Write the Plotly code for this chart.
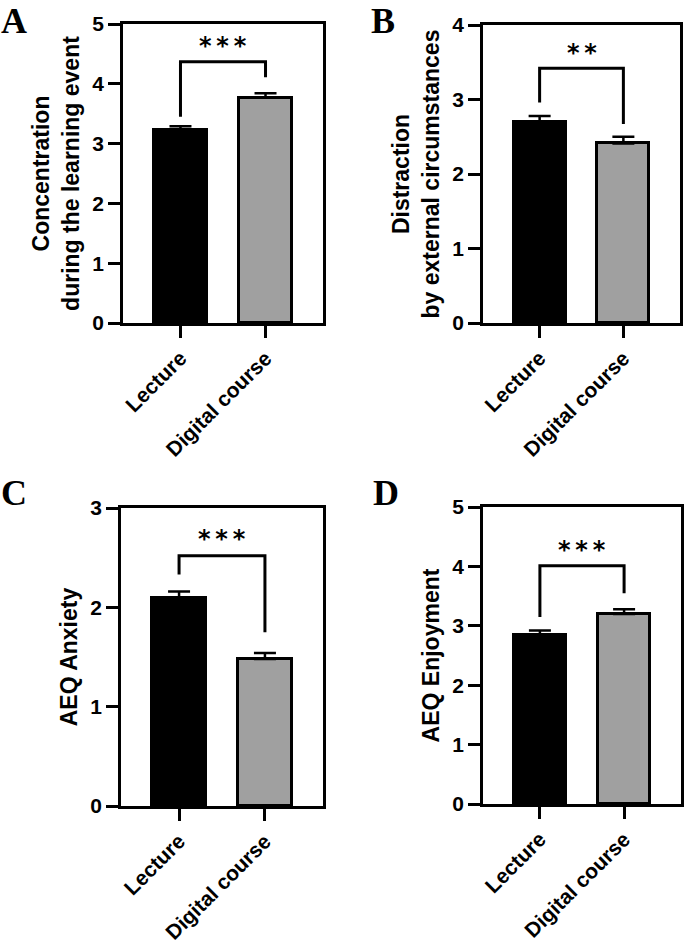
import plotly.graph_objects as go

categories = ["Lecture", "Digital course"]
panel_letters = ["A", "B", "C", "D"]
y_titles = ["Concentration<br>during the learning event",
            "Distraction<br>by external circumstances",
            "AEQ Anxiety",
            "AEQ Enjoyment"]
means_A = [3.22, 3.77]
sem_A = [0.07, 0.07]
means_B = [2.70, 2.41]
sem_B = [0.08, 0.09]
means_C = [2.09, 1.48]
sem_C = [0.07, 0.06]
means_D = [2.85, 3.20]
sem_D = [0.07, 0.08]
y_max = [5, 4, 3, 5]
y_tick_step = [1, 1, 1, 1]
# significance brackets: [left leg bottom, top, right leg bottom], star label y
bracket_A = [3.45, 4.37, 4.11]
bracket_B = [2.96, 3.42, 2.67]
bracket_C = [2.33, 2.52, 1.75]
bracket_D = [3.15, 4.01, 3.55]
stars = ["***", "**", "***", "***"]
star_y = [4.69, 3.66, 2.72, 4.32]

means = [means_A, means_B, means_C, means_D]
sems = [sem_A, sem_B, sem_C, sem_D]
brackets = [bracket_A, bracket_B, bracket_C, bracket_D]

W, H = 685, 948
# plot-area pixel boxes (left, right, top, bottom)
boxes = [(123, 323, 24, 323), (483, 680, 25, 323),
         (121, 323, 508, 806), (483, 681, 507, 804)]
letter_pos = [(0, 0), (370, 0), (0, 472), (372, 472)]

FONT = "Liberation Sans"
fills = ["#000000", "#a0a0a0"]

fig = go.Figure()
for i in range(4):
    ax = "" if i == 0 else str(i + 1)
    l, r, t, b = boxes[i]
    fig.add_trace(go.Bar(
        x=[0, 1], y=means[i], width=0.62,
        marker=dict(color=fills, line=dict(color="black", width=3)),
        error_y=dict(type="data", symmetric=False, array=sems[i], arrayminus=[0, 0],
                     color="black", thickness=2.5, width=11),
        xaxis="x" + ax, yaxis="y" + ax, showlegend=False, hoverinfo="skip"))
    xa = dict(domain=[l / W, r / W], range=[-0.676, 1.676], anchor="y" + ax,
              automargin=False,
              tickvals=[0, 1], ticktext=categories, tickangle=-45,
              ticks="outside", ticklen=12, tickwidth=2.5, tickcolor="black",
              ticklabelstandoff=0,
              showline=True, linewidth=2.5, linecolor="black", mirror=True,
              showgrid=False, zeroline=False,
              tickfont=dict(family=FONT, size=21, color="black", weight="bold"))
    ya = dict(domain=[1 - b / H, 1 - t / H], range=[0, y_max[i]], anchor="x" + ax,
              automargin=False,
              dtick=y_tick_step[i], tick0=0,
              ticks="outside", ticklen=12, tickwidth=2.5, tickcolor="black",
              showline=True, linewidth=2.5, linecolor="black", mirror=True,
              showgrid=False, zeroline=False,
              tickfont=dict(family=FONT, size=21, color="black", weight="bold"),
              title=dict(text=y_titles[i], standoff=7,
                         font=dict(family=FONT, size=23, color="black", weight="bold")))
    fig.update_layout({"xaxis" + ax: xa, "yaxis" + ax: ya})
    bl, bt, br = brackets[i]
    fig.add_shape(type="path",
                  path=f"M 0 {bl} L 0 {bt} L 1 {bt} L 1 {br}",
                  xref="x" + ax, yref="y" + ax,
                  line=dict(color="black", width=3))
    fig.add_annotation(x=0.5, y=star_y[i], xref="x" + ax, yref="y" + ax,
                       text="\u2009".join(stars[i]), showarrow=False,
                       yanchor="middle", yshift=-3,
                       font=dict(family="DejaVu Sans", size=24, color="black",
                                 weight="bold"))
    lx, ly = letter_pos[i]
    fig.add_annotation(x=lx / W, y=1 - ly / H, xref="paper", yref="paper",
                       xanchor="left", yanchor="top", text=panel_letters[i],
                       showarrow=False, borderpad=0,
                       font=dict(family="Liberation Serif", size=36, color="black",
                                 weight="bold"))

fig.update_layout(width=W, height=H, margin=dict(l=0, r=0, t=0, b=0, autoexpand=False),
                  plot_bgcolor="white", paper_bgcolor="white", bargap=0)
fig.write_html("out.html", config={"displayModeBar": False},
               post_script="document.body.style.margin='0';document.body.style.overflow='hidden';")
